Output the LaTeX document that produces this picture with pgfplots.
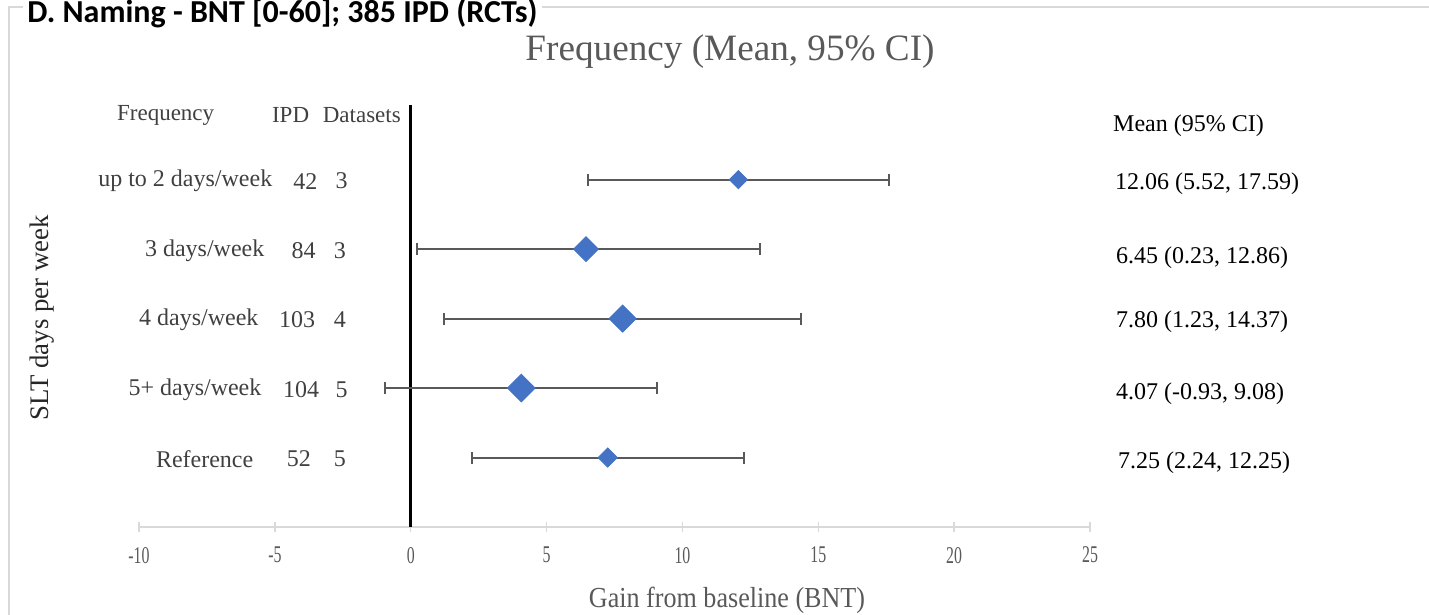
\documentclass[border=0pt]{standalone}
\usepackage{fontspec}
\setmainfont{Liberation Serif}
\newfontfamily\headfont{Carlito}
\usepackage{graphicx}
\usepackage{pgfplots}
\usepackage{pgfplotstable}
\pgfplotsset{compat=1.18}
\definecolor{ptblue}{HTML}{4472C4}
\definecolor{bargray}{HTML}{595959}
\definecolor{txtgray}{HTML}{595959}
\definecolor{lbl}{HTML}{404040}
\definecolor{axgray}{HTML}{D9D9D9}

% mean, lower and upper 95% CI (as drawn), marker size
\pgfplotstableread{
y  m      lo     hi     ms
5  12.06  6.51   17.59  3.2
4  6.45   0.23   12.86  4.4
3  7.80   1.23   14.37  4.8
2  4.07   -0.93  9.08   4.9
1  7.25   2.24   12.25  3.4
}\freqdata

\newcommand{\fs}[1]{\fontsize{#1}{#1}\selectfont}

\begin{document}
\begin{tikzpicture}
\clip (0,0) rectangle (714.5pt,307.5pt);
\begin{axis}[
  at={(69.5pt,44pt)}, anchor=south west,
  scale only axis, width=475.5pt, height=211pt,
  xmin=-10, xmax=25, ymin=0, ymax=6.075,
  axis x line=bottom, axis y line=none,
  x axis line style={axgray, line width=1pt, -},
  xtick={-10,-5,...,25},
  xtick align=center, major tick length=5pt,
  every tick/.style={axgray, line width=0.75pt},
  /pgf/number format/assume math mode=true,
  xticklabel={\scalebox{0.66}[1]{\pgfmathprintnumber{\tick}}},
  xticklabel style={font=\fs{12}, text=txtgray, yshift=-4pt},
  clip=false,
]
  % zero line
  \draw[black, line width=1.25pt] (axis cs:0,0) -- (axis cs:0,6.075);

  % confidence intervals
  \addplot[only marks, mark=none,
    error bars/.cd, x dir=both, x explicit,
    error bar style={draw=bargray, line width=1pt},
    error mark options={draw=bargray, line width=1pt, mark size=3pt, rotate=90}]
    table[x=m, y=y,
      x error plus expr=\thisrow{hi}-\thisrow{m},
      x error minus expr=\thisrow{m}-\thisrow{lo}] {\freqdata};

  % means
  \addplot[scatter, only marks, mark=square*,
    point meta=\thisrow{ms},
    scatter/use mapped color={draw=ptblue, fill=ptblue},
    visualization depends on={\thisrow{ms} \as \msz},
    scatter/@pre marker code/.append style={/tikz/mark size=\msz, /tikz/rotate=45}]
    table[x=m, y=y] {\freqdata};

  % left table
  \begin{scope}[font=\fs{11.5}, text=lbl]
    \node at (axis cs:-9.02,5.93) {Frequency};
    \node at (axis cs:-4.42,5.93) {IPD};
    \node at (axis cs:-1.80,5.93) {Datasets};
  \end{scope}
  \begin{scope}[font=\fs{12}, text=lbl]
    \node[anchor=east, inner sep=0pt] at (axis cs:-5.08,4.98) {up to 2 days/week};
    \node[anchor=east, inner sep=0pt] at (axis cs:-5.37,3.98) {3 days/week};
    \node[anchor=east, inner sep=0pt] at (axis cs:-5.59,2.98) {4 days/week};
    \node[anchor=east, inner sep=0pt] at (axis cs:-5.48,1.98) {5+ days/week};
    \node[anchor=east, inner sep=0pt] at (axis cs:-5.78,0.98) {Reference};
    \node at (axis cs:-3.88,4.98) {42};
    \node at (axis cs:-3.94,3.98) {84};
    \node at (axis cs:-4.18,2.98) {103};
    \node at (axis cs:-4.03,1.98) {104};
    \node at (axis cs:-4.12,0.98) {52};
    \node at (axis cs:-2.54,4.98) {3};
    \node at (axis cs:-2.61,3.98) {3};
    \node at (axis cs:-2.61,2.98) {4};
    \node at (axis cs:-2.54,1.98) {5};
    \node at (axis cs:-2.61,0.98) {5};
  \end{scope}

  % right table
  \begin{scope}[font=\fs{12}, text=black]
    \node[anchor=west, inner sep=0pt] at (axis cs:25.84,5.77) {Mean (95\% CI)};
    \node[anchor=west, inner sep=0pt] at (axis cs:25.91,4.94) {12.06 (5.52, 17.59)};
    \node[anchor=west, inner sep=0pt] at (axis cs:25.95,3.88) {6.45 (0.23, 12.86)};
    \node[anchor=west, inner sep=0pt] at (axis cs:25.95,2.95) {7.80 (1.23, 14.37)};
    \node[anchor=west, inner sep=0pt] at (axis cs:25.95,1.92) {4.07 (-0.93, 9.08)};
    \node[anchor=west, inner sep=0pt] at (axis cs:26.02,0.93) {7.25 (2.24, 12.25)};
  \end{scope}
\end{axis}

\begin{scope}[x=0.5pt, y=-0.5pt, shift={(0pt,307.5pt)}]
  \draw[axgray, line width=1pt] (9,620) -- (9,7) -- (1435,7);
  \node[anchor=base west, fill=white, inner xsep=2pt, inner ysep=2pt, font=\headfont\bfseries\fs{16}, text=black]
    at (23,23) {D. Naming - BNT [0-60]; 385 IPD (RCTs)};
  \node[font=\fs{18.6}, text=txtgray] at (730,52) {Frequency (Mean, 95\% CI)};
  \node[font=\fs{13.4}, text=black!85, rotate=90] at (42,318) {SLT days per week};
  \node[font=\fs{14.5}, text=txtgray] at (727,600) {\scalebox{0.9}[1]{Gain from baseline (BNT)}};
\end{scope}
\end{tikzpicture}
\end{document}
